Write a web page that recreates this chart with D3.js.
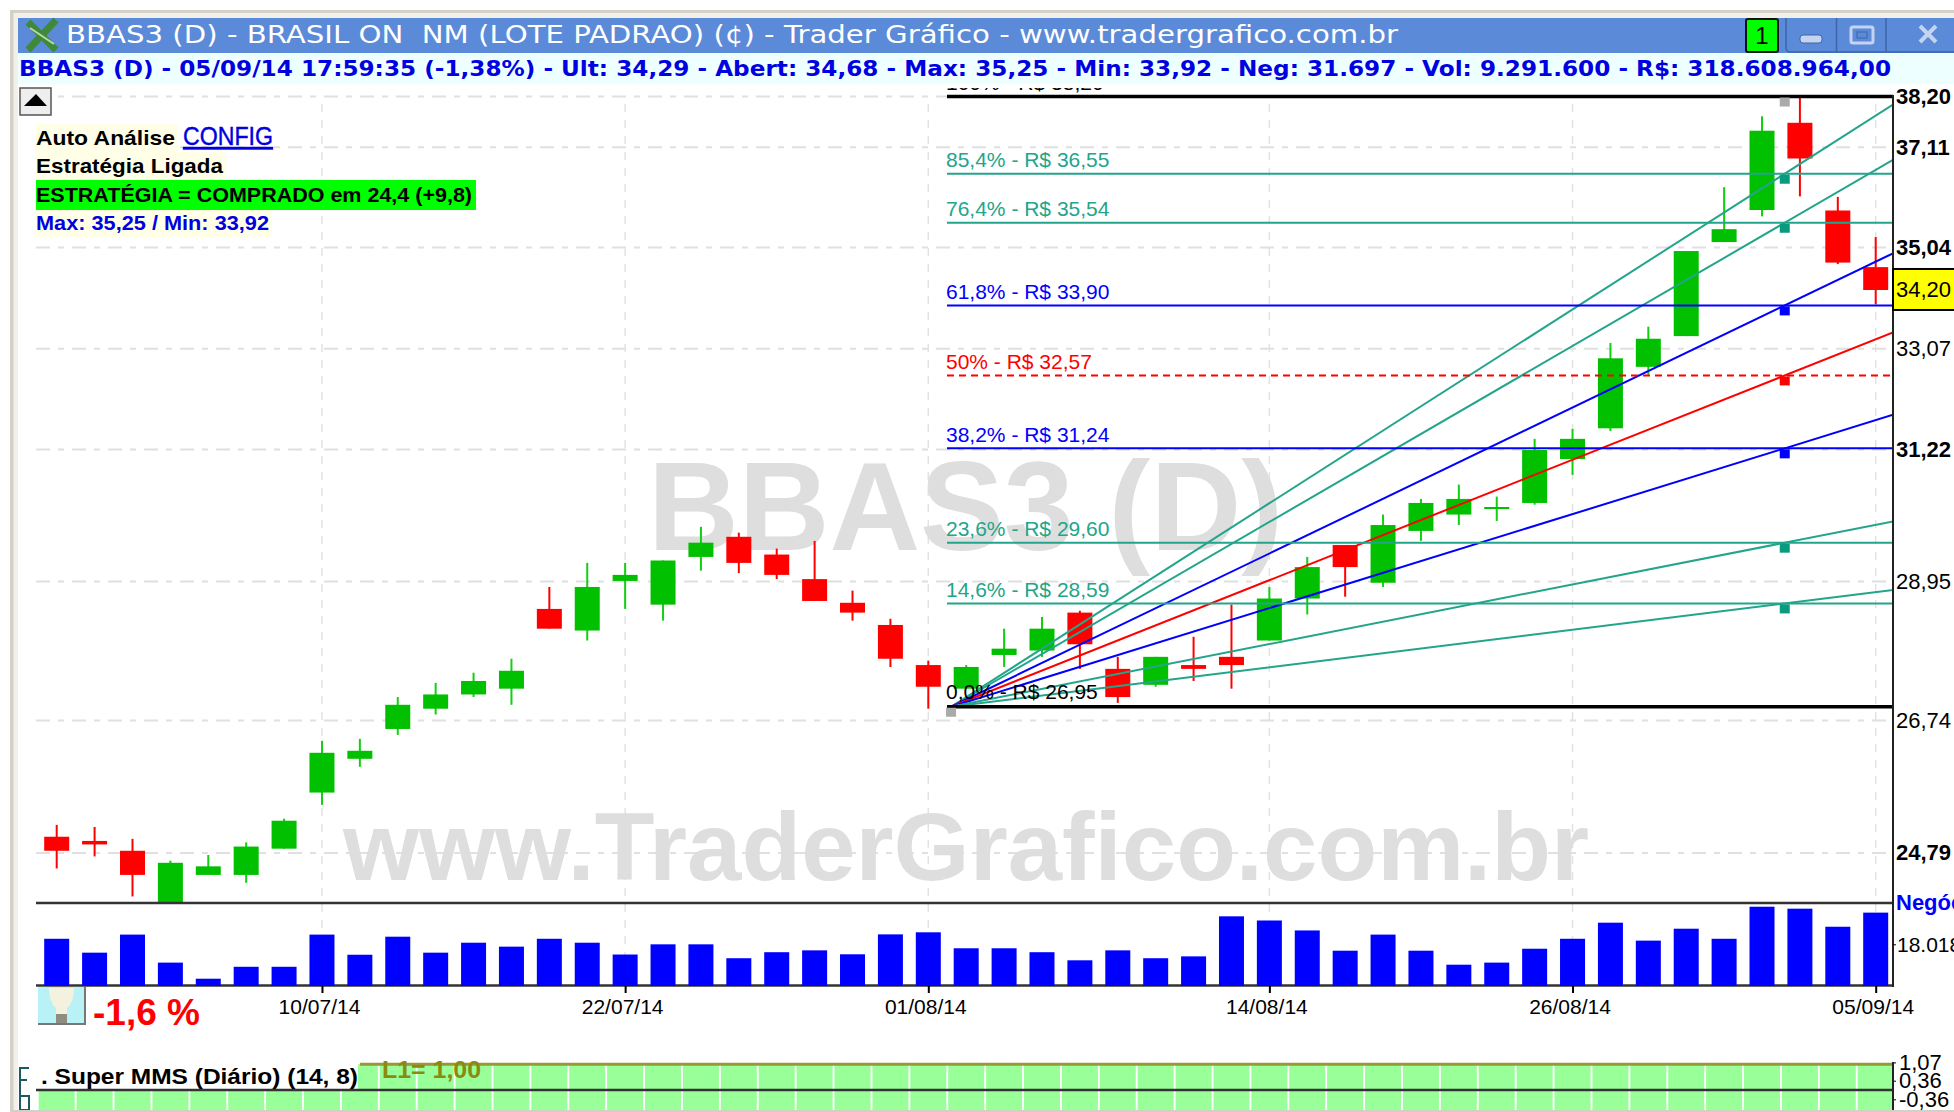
<!DOCTYPE html>
<html>
<head>
<meta charset="utf-8">
<script src="https://cdn.jsdelivr.net/npm/d3@7"></script>
<style>
  html, body { margin: 0; padding: 0; background: #fff; overflow: hidden; }
  svg { display: block; font-family: "Liberation Sans", Arial, sans-serif; }
</style>
</head>
<body>
<div id="chart"></div>
<script>
// candle data
const dates = ["01/07/14","02/07/14","03/07/14","04/07/14","07/07/14","08/07/14","09/07/14","10/07/14",
  "11/07/14","14/07/14","15/07/14","16/07/14","17/07/14","18/07/14","21/07/14","22/07/14",
  "23/07/14","24/07/14","25/07/14","28/07/14","29/07/14","30/07/14","31/07/14","01/08/14",
  "04/08/14","05/08/14","06/08/14","07/08/14","08/08/14","11/08/14","12/08/14","13/08/14","14/08/14",
  "15/08/14","18/08/14","19/08/14","20/08/14","21/08/14","22/08/14","25/08/14","26/08/14",
  "27/08/14","28/08/14","29/08/14","01/09/14","02/09/14","03/09/14","04/09/14","05/09/14"];
const opens = [25.02,24.96,24.82,24.06,24.48,24.48,24.85,25.66,26.16,26.61,26.92,27.14,27.23,28.50,28.15,28.96,
  28.57,29.36,29.70,29.40,28.99,28.60,28.24,27.60,27.23,27.76,27.83,28.44,27.54,27.29,27.60,27.73,27.99,
  28.67,29.56,28.93,29.80,30.08,30.18,30.28,31.05,31.60,32.73,33.31,35.15,35.80,37.63,35.79,34.65];
const closes = [24.82,24.91,24.48,24.65,24.60,24.88,25.25,26.25,26.28,26.98,27.14,27.35,27.51,28.18,28.86,29.06,
  29.30,29.60,29.26,29.06,28.63,28.44,27.70,27.26,27.57,27.86,28.18,27.93,27.10,27.73,27.54,27.60,28.67,
  29.19,29.19,29.90,30.28,30.35,30.21,31.21,31.41,32.89,33.26,34.97,35.41,37.46,36.87,34.74,34.20];
const highs = [25.19,25.16,24.99,24.68,24.76,24.94,25.28,26.43,26.46,27.10,27.32,27.48,27.70,28.86,29.26,29.26,
  29.30,29.87,29.77,29.50,29.63,28.80,28.34,27.67,27.60,28.18,28.37,28.47,27.73,27.73,28.05,28.57,28.86,
  29.36,29.56,30.08,30.35,30.60,30.39,31.41,31.59,33.18,33.49,34.97,36.27,37.77,38.19,36.07,35.25];
const lows = [24.57,24.74,24.18,24.06,24.48,24.37,24.85,25.48,26.04,26.52,26.83,27.10,26.98,28.18,27.99,28.50,
  28.31,29.13,29.09,28.99,28.63,28.31,27.57,26.92,27.23,27.57,27.73,27.54,27.01,27.26,27.35,27.23,27.99,
  28.41,28.70,28.86,29.63,29.90,29.97,30.25,30.77,31.55,32.58,33.31,35.15,35.67,36.08,34.71,33.92];
const volumes = [20400,14400,22200,10100,3150,8300,8300,22200,13500,21300,14400,18700,17000,20400,18700,13600,
  18000,18000,12000,14600,15400,13700,22300,23200,16300,16300,14600,11100,15400,12000,12800,30100,28300,
  24000,15250,22200,15250,9200,10100,16100,20400,27350,19600,24750,20400,34250,33400,25600,31697];
const mmsValues = dates.map(() => 1);

// axes
const priceTicks = [38.20,37.11,35.04,33.07,31.22,28.95,26.74,24.79];
const boldTicks = [38.20,37.11,35.04,31.22,24.79];
const dateTicks = ["10/07/14","22/07/14","01/08/14","14/08/14","26/08/14","05/09/14"];
const volumeTicks = [18018];
const mmsTicks = [1.07,0.36,-0.36,-1.07];

// fibonacci levels
const fibPercents = ["100%","85,4%","76,4%","61,8%","50%","38,2%","23,6%","14,6%","0,0%"];
const fibPrices = [38.20,36.55,35.54,33.90,32.57,31.24,29.60,28.59,26.95];
const fibColors = ["#000","#22a58a","#22a58a","#0000ff","#ff0000","#0000ff","#22a58a","#22a58a","#000"];
const fibStartIdx = 23.6, fibEndIdx = 45.6;
const lastPrice = 34.20;

const comma = d => d.toFixed(2).replace(".", ",");

// page size
const W = 1954, H = 1112;
const left = 36, axisX = 1893;

const svg = d3.select("#chart").append("svg").attr("width", W).attr("height", H);

// scales
const x = d3.scalePoint().domain(dates).range([56.7, 1875.7]);
const xi = d3.scaleLinear().domain([0, dates.length - 1]).range([56.7, 1875.7]);
const y = d3.scaleLog().domain([38.20, 24.09]).range([96.5, 903]);
const yVol = d3.scaleLinear().domain([0, 35856]).range([986, 903]);
const yMms = d3.scaleLinear().domain([1.07, -1.07]).range([1062.4, 1117.6]);

function label(txt, px, py, size, color, weight, len) {
  const t = svg.append("text").text(txt)
    .attr("x", px).attr("y", py)
    .attr("font-size", size).attr("fill", color)
    .attr("font-weight", weight || "normal");
  if (len) t.attr("textLength", len).attr("lengthAdjust", "spacingAndGlyphs");
  return t;
}

svg.append("clipPath").attr("id", "clipPrice").append("rect")
  .attr("x", left).attr("y", 88).attr("width", axisX - left).attr("height", 903 - 88);

// grid
svg.append("g").selectAll("line").data(priceTicks).enter().append("line")
  .attr("x1", left).attr("x2", axisX)
  .attr("y1", d => y(d)).attr("y2", d => y(d))
  .attr("stroke", "#e0e0e0").attr("stroke-width", 2).attr("stroke-dasharray", "14,8,6,8");
svg.append("g").selectAll("line").data(dateTicks).enter().append("line")
  .attr("x1", d => x(d)).attr("x2", d => x(d))
  .attr("y1", 104).attr("y2", 986)
  .attr("stroke", "#e2e2e2").attr("stroke-width", 1.5).attr("stroke-dasharray", "8,8");

// watermarks
label("BBAS3 (D)", 648, 550, 125.6, "#dedede", "bold");
label("www.TraderGrafico.com.br", 343, 880, 97, "#dedede", "bold", 1246);

// candles
const candles = svg.append("g").attr("clip-path", "url(#clipPrice)")
  .selectAll("g").data(dates).enter().append("g");
const candleColor = i => closes[i] >= opens[i] ? "#00c000" : "#ff0000";
candles.append("line")
  .attr("x1", d => x(d)).attr("x2", d => x(d))
  .attr("y1", (d, i) => y(highs[i])).attr("y2", (d, i) => y(lows[i]))
  .attr("stroke", (d, i) => closes[i] >= opens[i] ? "#10d010" : "#ff0000")
  .attr("stroke-width", 2);
candles.append("rect")
  .attr("x", d => x(d) - 12.5).attr("width", 25)
  .attr("y", (d, i) => y(Math.max(opens[i], closes[i])))
  .attr("height", (d, i) => Math.max(2, y(Math.min(opens[i], closes[i])) - y(Math.max(opens[i], closes[i]))))
  .attr("fill", (d, i) => candleColor(i));

// panel separators
[903, 985.5].forEach(py => {
  svg.append("line").attr("x1", left).attr("x2", axisX).attr("y1", py).attr("y2", py)
    .attr("stroke", "#333").attr("stroke-width", 2.5);
});

// volume
svg.append("g").selectAll("rect").data(volumes).enter().append("rect")
  .attr("x", (d, i) => x(dates[i]) - 12.5).attr("width", 25)
  .attr("y", d => yVol(d)).attr("height", d => yVol(0) - yVol(d))
  .attr("fill", "#0000ff");

// fibonacci fan: from the 0% point through each level, carried on to the axis
const fibX0 = xi(fibStartIdx), fibX1 = xi(fibEndIdx), fibY0 = y(fibPrices[8]);
const fib = svg.append("g").attr("clip-path", "url(#clipPrice)");
fibPrices.forEach((p, i) => {
  const isEdge = i === 0 || i === 8;
  if (!isEdge) {
    const slope = (y(p) - fibY0) / (fibX1 - fibX0);
    fib.append("line")
      .attr("x1", fibX0).attr("y1", fibY0)
      .attr("x2", axisX).attr("y2", fibY0 + slope * (axisX - fibX0))
      .attr("stroke", fibColors[i]).attr("stroke-width", 2);
  }
  fib.append("line")
    .attr("x1", 947).attr("x2", axisX).attr("y1", y(p)).attr("y2", y(p))
    .attr("stroke", fibColors[i])
    .attr("stroke-width", isEdge ? 3.5 : 2)
    .attr("stroke-dasharray", p === 32.57 ? "7,5" : null);
  fib.append("text")
    .text(fibPercents[i] + " - R$ " + comma(p))
    .attr("x", 946).attr("y", y(p) - (i === 8 ? 8 : 6.5))
    .attr("font-size", 21).attr("fill", fibColors[i]);
  // little square under the level
  const sqColor = isEdge ? "#aaa" : (fibColors[i] === "#22a58a" ? "#0a9a80" : fibColors[i]);
  fib.append("rect")
    .attr("x", (i === 8 ? fibX0 : fibX1) - 5).attr("y", y(p) + 1)
    .attr("width", 10).attr("height", 9).attr("fill", sqColor);
});

// right axis
const priceAxis = svg.append("g").attr("transform", `translate(${axisX},0)`)
  .call(d3.axisRight(y).tickValues(priceTicks).tickFormat(comma).tickSize(0).tickPadding(3));
priceAxis.select(".domain").remove();
priceAxis.selectAll("text")
  .attr("font-family", "Liberation Sans").attr("font-size", 22).attr("fill", "#000")
  .attr("font-weight", d => boldTicks.includes(d) ? "bold" : "normal");
svg.append("line").attr("x1", axisX).attr("x2", axisX).attr("y1", 95).attr("y2", 987)
  .attr("stroke", "#222").attr("stroke-width", 2);

// last price tag
svg.append("rect").attr("x", axisX).attr("y", y(lastPrice) - 21).attr("width", 70).attr("height", 41)
  .attr("fill", "#ffff00").attr("stroke", "#000").attr("stroke-width", 2);
label(comma(lastPrice), axisX + 3, y(lastPrice) + 7, 22, "#000");

// volume axis
label("Negócios", 1896, 910, 22, "#0000ff", "bold");
const volAxis = svg.append("g").attr("transform", `translate(${axisX},0)`)
  .call(d3.axisRight(yVol).tickValues(volumeTicks).tickFormat(() => "18.018").tickSize(3).tickPadding(1));
volAxis.select(".domain").remove();
volAxis.selectAll("text").attr("font-family", "Liberation Sans").attr("font-size", 21).attr("fill", "#000");

// date axis
const dateAxis = svg.append("g").attr("transform", "translate(0,986)")
  .call(d3.axisBottom(x).tickValues(dateTicks).tickSize(7).tickPadding(6));
dateAxis.select(".domain").remove();
dateAxis.selectAll("line").attr("stroke", "#000").attr("stroke-width", 2);
dateAxis.selectAll("text")
  .attr("dx", -3)
  .attr("font-family", "Liberation Sans").attr("font-size", 21).attr("fill", "#000");

// lamp and day change
svg.append("rect").attr("x", 38).attr("y", 987).attr("width", 47).attr("height", 37).attr("fill", "#b8f2f6");
svg.append("path").attr("d", "M38 1024 H85 V987").attr("fill", "none").attr("stroke", "#777").attr("stroke-width", 2);
svg.append("path").attr("d", "M49 988 H74 Q74 1002 67 1008 V1014 H56 V1008 Q49 1002 49 988 Z").attr("fill", "#f4f2de");
svg.append("rect").attr("x", 56).attr("y", 1014).attr("width", 11).attr("height", 9).attr("fill", "#8e8e80");
label("-1,6 %", 93, 1025, 37, "#ff0000", "bold");

// lower panel: Super MMS
svg.append("g").selectAll("rect").data(mmsValues).enter().append("rect")
  .attr("x", (d, i) => x(dates[i]) - 18).attr("width", 36)
  .attr("y", d => yMms(d)).attr("height", d => yMms(-d) - yMms(d))
  .attr("fill", "#99ff99");
svg.append("rect").attr("x", left).attr("y", 1055).attr("width", 322).attr("height", 34).attr("fill", "#fff");
svg.append("line").attr("x1", 360).attr("x2", axisX).attr("y1", yMms(1)).attr("y2", yMms(1))
  .attr("stroke", "#999933").attr("stroke-width", 3);
svg.append("line").attr("x1", left).attr("x2", axisX).attr("y1", yMms(0)).attr("y2", yMms(0))
  .attr("stroke", "#333").attr("stroke-width", 2.5);
label(". Super MMS (Diário) (14, 8)", 41, 1084, 22, "#000", "bold", 317);
label("L1= 1,00", 382, 1078, 24, "#8a8a10", "bold", 99);
const mmsAxis = svg.append("g").attr("transform", `translate(${axisX},0)`)
  .call(d3.axisRight(yMms).tickValues(mmsTicks).tickFormat(comma).tickSize(3).tickPadding(3));
mmsAxis.select(".domain").remove();
mmsAxis.selectAll("text").attr("font-family", "Liberation Sans").attr("font-size", 22).attr("fill", "#000");
svg.append("line").attr("x1", axisX).attr("x2", axisX).attr("y1", 1062).attr("y2", H)
  .attr("stroke", "#222").attr("stroke-width", 2);
svg.append("path").attr("d", "M29 1068 H20 V1092 M20 1080 H27 M20 1092 V1110 H29 V1096 H20")
  .attr("fill", "none").attr("stroke", "#1d5a60").attr("stroke-width", 2);

// window frame
svg.append("rect").attr("x", 10).attr("y", 10).attr("width", W - 10).attr("height", 8).attr("fill", "#f2f0ea");
svg.append("rect").attr("x", 10).attr("y", 10).attr("width", 8).attr("height", H - 10).attr("fill", "#f2f0ea");
svg.append("rect").attr("x", 10).attr("y", 10).attr("width", W - 10).attr("height", 3).attr("fill", "#d4d0c8");
svg.append("rect").attr("x", 10).attr("y", 10).attr("width", 3.5).attr("height", H - 10).attr("fill", "#d4d0c8");
svg.append("rect").attr("x", 10).attr("y", H - 2).attr("width", W - 10).attr("height", 2).attr("fill", "#d4d0c8");

// title bar
svg.append("rect").attr("x", 18).attr("y", 18).attr("width", W - 18).attr("height", 35).attr("fill", "#5b8ad9");
svg.append("path").attr("d", "M28 22 L56 50 M56 20 L28 50").attr("stroke", "#3f8a3a").attr("stroke-width", 7);
svg.append("path").attr("d", "M30 28 L54 44").attr("stroke", "#b7d9a8").attr("stroke-width", 2);
label("BBAS3 (D) - BRASIL ON  NM (LOTE PADRAO) (¢) - Trader Gráfico - www.tradergrafico.com.br", 66, 43, 25, "#fff", "normal", 1332)
  .attr("font-family", "DejaVu Sans").style("white-space", "pre");

// info row
svg.append("rect").attr("x", 18).attr("y", 53).attr("width", W - 18).attr("height", 31).attr("fill", "#eeffff");
label("BBAS3 (D) - 05/09/14 17:59:35 (-1,38%) - Ult: 34,29 - Abert: 34,68 - Max: 35,25 - Min: 33,92 - Neg: 31.697 - Vol: 9.291.600 - R$: 318.608.964,00",
  19, 76, 21, "#0000e0", "bold", 1872).attr("font-family", "DejaVu Sans");

// window buttons
svg.append("rect").attr("x", 1746).attr("y", 19).attr("width", 32).attr("height", 33).attr("rx", 2)
  .attr("fill", "#00ff00").attr("stroke", "#111").attr("stroke-width", 2);
label("1", 1762, 44, 24, "#000").attr("text-anchor", "middle");
svg.append("path").attr("d", "M1786 18 V48 Q1786 52 1791 52 H1954 M1836.5 18 V52 M1886 18 V52")
  .attr("fill", "none").attr("stroke", "#3d66a8").attr("stroke-width", 1.5);
svg.append("rect").attr("x", 1800).attr("y", 35).attr("width", 22).attr("height", 8).attr("rx", 3).attr("fill", "#c4d4f0").attr("stroke", "#3d66a8");
svg.append("rect").attr("x", 1851).attr("y", 27).attr("width", 22).attr("height", 16).attr("rx", 2).attr("fill", "none").attr("stroke", "#c4d4f0").attr("stroke-width", 3);
svg.append("rect").attr("x", 1857).attr("y", 32).attr("width", 10).attr("height", 6).attr("fill", "none").attr("stroke", "#3d66a8");
svg.append("path").attr("d", "M1920 26 L1936 42 M1936 26 L1920 42").attr("stroke", "#c4d4f0").attr("stroke-width", 4);

// collapse button
svg.append("rect").attr("x", 20).attr("y", 88).attr("width", 31).attr("height", 27)
  .attr("fill", "#eeeeee").attr("stroke", "#555").attr("stroke-width", 1.5);
svg.append("path").attr("d", "M24 106 L36 94 L47 106 Z").attr("fill", "#000");

// auto analysis box
svg.append("rect").attr("x", 36).attr("y", 124).attr("width", 142).attr("height", 28).attr("fill", "#ffffe8");
svg.append("rect").attr("x", 36).attr("y", 152).attr("width", 190).attr("height", 28).attr("fill", "#ffffe8");
svg.append("rect").attr("x", 36).attr("y", 180).attr("width", 440).attr("height", 30).attr("fill", "#00ff00");
svg.append("rect").attr("x", 36).attr("y", 210).attr("width", 236).attr("height", 28).attr("fill", "#ffffe8");
label("Auto Análise", 36, 145, 21, "#000", "bold", 139);
label("CONFIG", 183, 145, 25, "#0000e0", "normal", 90).attr("text-decoration", "underline").attr("stroke", "#0000e0").attr("stroke-width", 0.4);
label("Estratégia Ligada", 36, 173, 21, "#000", "bold", 187);
label("ESTRATÉGIA = COMPRADO em 24,4 (+9,8)", 36, 202, 21, "#000", "bold", 436);
label("Max: 35,25 / Min: 33,92", 36, 230, 21, "#0000e0", "bold", 233);
</script>
</body>
</html>
